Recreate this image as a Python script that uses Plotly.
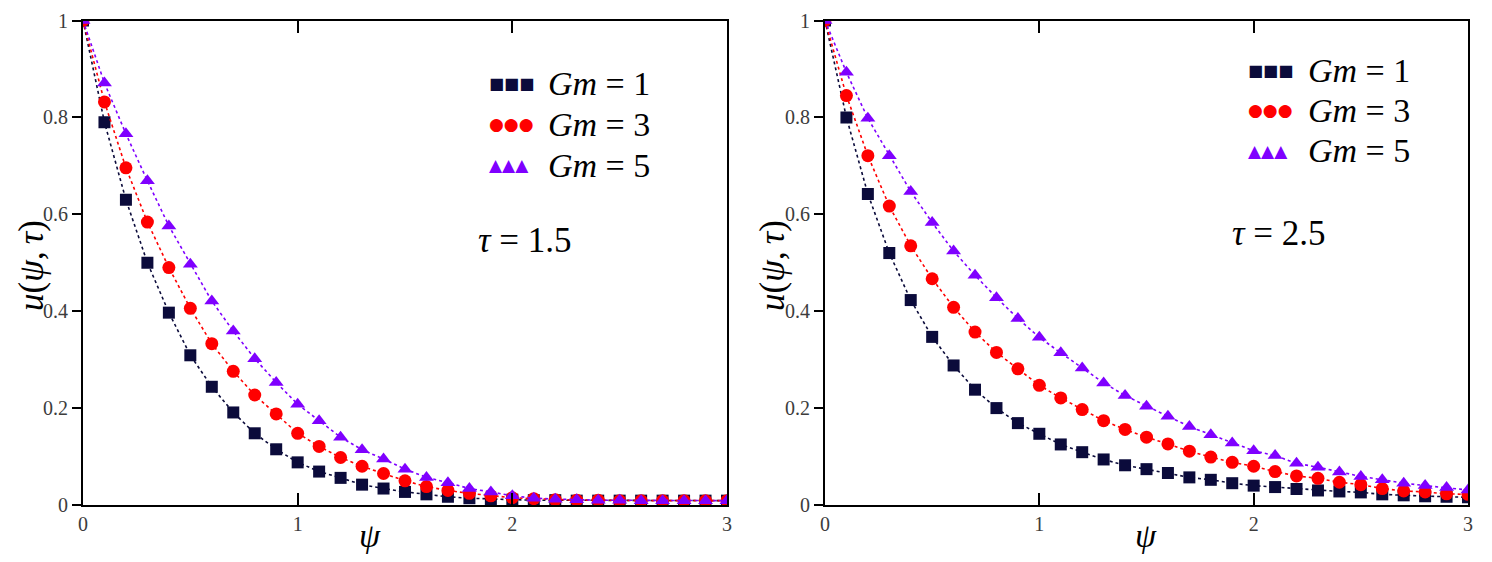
import plotly.graph_objects as go

psi = [0.0, 0.1, 0.2, 0.3, 0.4, 0.5, 0.6, 0.7, 0.8, 0.9, 1.0,
       1.1, 1.2, 1.3, 1.4, 1.5, 1.6, 1.7, 1.8, 1.9, 2.0,
       2.1, 2.2, 2.3, 2.4, 2.5, 2.6, 2.7, 2.8, 2.9, 3.0]

# tau = 1.5
left_gm1 = [1.0, 0.790, 0.630, 0.500, 0.397, 0.309, 0.244, 0.191, 0.148, 0.115, 0.088,
            0.069, 0.056, 0.042, 0.034, 0.027, 0.022, 0.017, 0.014, 0.012, 0.011,
            0.010, 0.010, 0.009, 0.009, 0.009, 0.009, 0.009, 0.009, 0.009, 0.009]
left_gm3 = [1.0, 0.832, 0.696, 0.584, 0.490, 0.406, 0.333, 0.276, 0.227, 0.188, 0.148,
            0.121, 0.098, 0.080, 0.065, 0.050, 0.038, 0.030, 0.024, 0.019, 0.015,
            0.013, 0.011, 0.010, 0.010, 0.009, 0.009, 0.009, 0.009, 0.009, 0.009]
left_gm5 = [1.0, 0.871, 0.766, 0.669, 0.576, 0.497, 0.421, 0.359, 0.302, 0.253, 0.208,
            0.174, 0.140, 0.114, 0.095, 0.074, 0.057, 0.046, 0.034, 0.027, 0.019,
            0.014, 0.012, 0.011, 0.010, 0.010, 0.009, 0.009, 0.009, 0.009, 0.009]

# tau = 2.5
right_gm1 = [1.0, 0.800, 0.642, 0.520, 0.423, 0.347, 0.288, 0.238, 0.200, 0.169, 0.147,
             0.125, 0.109, 0.094, 0.082, 0.074, 0.066, 0.057, 0.052, 0.045, 0.040,
             0.037, 0.033, 0.030, 0.028, 0.026, 0.022, 0.020, 0.018, 0.017, 0.016]
right_gm3 = [1.0, 0.845, 0.721, 0.617, 0.535, 0.467, 0.408, 0.357, 0.315, 0.281, 0.247,
             0.221, 0.197, 0.174, 0.156, 0.140, 0.126, 0.111, 0.099, 0.088, 0.080,
             0.069, 0.060, 0.055, 0.047, 0.042, 0.034, 0.029, 0.027, 0.023, 0.022]
right_gm5 = [1.0, 0.893, 0.798, 0.721, 0.647, 0.583, 0.524, 0.474, 0.428, 0.385, 0.346,
             0.314, 0.283, 0.252, 0.226, 0.204, 0.183, 0.162, 0.145, 0.128, 0.112,
             0.102, 0.086, 0.078, 0.068, 0.059, 0.052, 0.045, 0.040, 0.036, 0.031]

series_names = ["Gm = 1", "Gm = 3", "Gm = 5"]
colors = ["#0b0b3b", "#ff0000", "#7f00ff"]
symbols = ["square", "circle", "triangle-up"]
sizes = [12, 13, 13]
glyphs = ["■■■", "●●●", "▲▲▲"]
labels_gm = ["<i>Gm</i>&nbsp;=&nbsp;1", "<i>Gm</i>&nbsp;=&nbsp;3", "<i>Gm</i>&nbsp;=&nbsp;5"]
tau_labels = ["<i>τ</i>&nbsp;=&nbsp;1.5", "<i>τ</i>&nbsp;=&nbsp;2.5"]

x_ticks = [0, 1, 2, 3]
y_ticks = [0, 0.2, 0.4, 0.6, 0.8, 1]
y_tick_text = ["0", "0.2", "0.4", "0.6", "0.8", "1"]

SERIF = "Liberation Serif, Times New Roman, serif"

# page has an 8px body margin; figure sized so it fits the window
OFF = 8
W, H = 1492 - 2 * OFF, 562 - 2 * OFF


def fx(X):
    return (X - OFF) / W


def fy(Y):
    return 1 - (Y - OFF) / H


fig = go.Figure()

panels = [(left_gm1, left_gm3, left_gm5), (right_gm1, right_gm3, right_gm5)]
for p, data in enumerate(panels):
    xa = "x" if p == 0 else "x2"
    ya = "y" if p == 0 else "y2"
    for i, vals in enumerate(data):
        fig.add_trace(go.Scatter(
            x=psi, y=vals, mode="lines+markers", name=series_names[i],
            xaxis=xa, yaxis=ya, showlegend=False,
            line=dict(color=colors[i], width=1.6, dash="dot"),
            marker=dict(symbol=symbols[i], size=sizes[i], color=colors[i]),
        ))

x_domains = [[fx(83), fx(727)], [fx(825), fx(1468)]]
y_domain = [fy(505), fy(20.5)]

axis_font = dict(family=SERIF, size=20, color="#3c3c3c")
common_x = dict(range=[0, 3], tickvals=x_ticks, ticks="inside", ticklen=12, tickwidth=2,
                showline=True, linewidth=2, linecolor="black", mirror="ticks",
                showgrid=False, zeroline=False, tickfont=axis_font, tickcolor="black",
                automargin=False)
common_y = dict(range=[0, 1], tickvals=y_ticks, ticktext=y_tick_text, ticks="outside",
                ticklen=9, tickwidth=2, showline=True, linewidth=2, linecolor="black",
                mirror=True, showgrid=False, zeroline=False, tickfont=axis_font,
                tickcolor="black", automargin=False)
overlay_y = dict(range=[0, 1], tickvals=y_ticks, side="right",
                 ticks="inside", ticklen=12, tickwidth=2, tickcolor="black",
                 showticklabels=False, showgrid=False, zeroline=False, showline=False,
                 automargin=False)

fig.update_layout(
    width=W, height=H,
    margin=dict(l=0, r=0, t=0, b=0, autoexpand=False),
    paper_bgcolor="white", plot_bgcolor="white",
    showlegend=False,
    xaxis=dict(domain=x_domains[0], anchor="y", **common_x),
    yaxis=dict(domain=y_domain, anchor="x", **common_y),
    xaxis2=dict(domain=x_domains[1], anchor="y2", **common_x),
    yaxis2=dict(domain=y_domain, anchor="x2", **common_y),
    yaxis3=dict(overlaying="y", anchor="x", **overlay_y),
    yaxis4=dict(overlaying="y2", anchor="x2", **overlay_y),
)

annotations = []
legend_pos = [
    dict(gx=487, tx=546, rows=[84, 124, 165], tau=(476, 240)),
    dict(gx=1246, tx=1306, rows=[70, 110, 151], tau=(1230, 233)),
]
glyph_sizes = [16, 17, 17]
for p, lp in enumerate(legend_pos):
    for i in range(3):
        annotations.append(dict(
            xref="paper", yref="paper", x=fx(lp["gx"]), y=fy(lp["rows"][i]),
            xanchor="left", yanchor="middle", showarrow=False,
            text=glyphs[i], font=dict(family="DejaVu Sans", size=glyph_sizes[i], color=colors[i]),
        ))
        annotations.append(dict(
            xref="paper", yref="paper", x=fx(lp["tx"]), y=fy(lp["rows"][i]),
            xanchor="left", yanchor="middle", showarrow=False,
            text=labels_gm[i], font=dict(family=SERIF, size=34, color="black"),
        ))
    annotations.append(dict(
        xref="paper", yref="paper", x=fx(lp["tau"][0]), y=fy(lp["tau"][1]),
        xanchor="left", yanchor="middle", showarrow=False,
        text=tau_labels[p], font=dict(family=SERIF, size=35, color="black"),
    ))

# axis titles
for (lx, ly) in [(31, 266), (772, 266)]:
    annotations.append(dict(
        xref="paper", yref="paper", x=fx(lx), y=fy(ly),
        xanchor="center", yanchor="middle", showarrow=False, textangle=-90,
        text="<i>u</i>(<i>ψ</i>,\u2009<i>τ</i>)", font=dict(family=SERIF, size=35, color="black"),
    ))
for (px, py) in [(370, 535), (1146, 535)]:
    annotations.append(dict(
        xref="paper", yref="paper", x=fx(px), y=fy(py),
        xanchor="center", yanchor="middle", showarrow=False,
        text="<i>ψ</i>", font=dict(family=SERIF, size=34, color="black"),
    ))

fig.update_layout(annotations=annotations)
fig.write_html("out.html")
